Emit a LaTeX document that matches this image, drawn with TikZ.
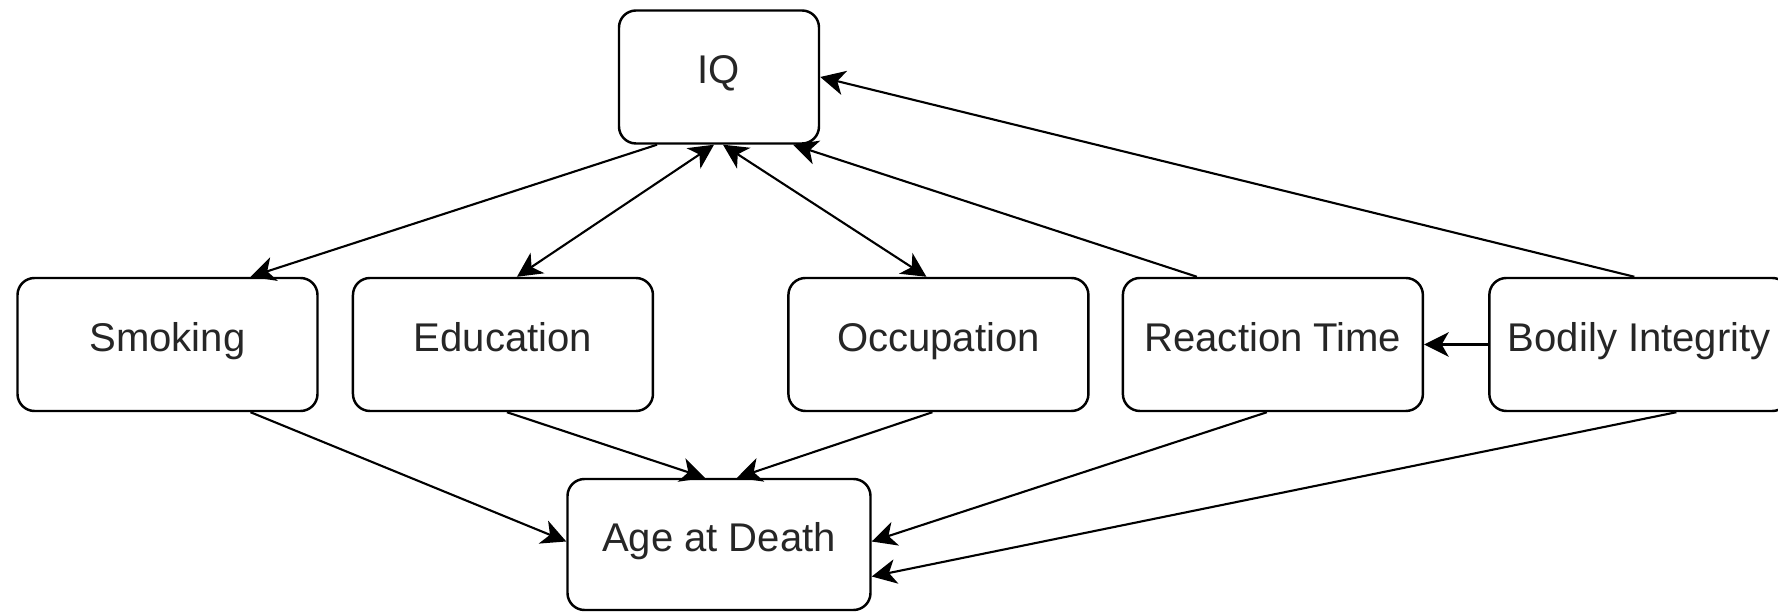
\documentclass[tikz,border=0pt]{standalone}
\usepackage{fontspec}
\setmainfont{Liberation Sans}
\usetikzlibrary{arrows.meta, positioning}
\tikzset{
    factor/.style={rectangle, draw, line width=0.7pt, rounded corners=0.17cm, fill=white, align=center,
        minimum width=3cm, minimum height=1.33cm, inner sep=0pt, text height=8.4pt, text depth=4.6pt,
        font=\fontsize{11.4}{14}\selectfont, text=black!85},
    arrow/.style={line width=0.6pt, -{Stealth[length=7pt, width=7pt, inset=2pt]}},
    twoway/.style={arrow, {Stealth[length=7pt, width=7pt, inset=2pt]}-{Stealth[length=7pt, width=7pt, inset=2pt]}}
}
\begin{document}
\begin{tikzpicture}
    \useasboundingbox (0,0) rectangle (17.78,-6.13);

    % Top
    \node (iq) [factor, minimum width=2cm] at (7.19,-0.77) {IQ};

    % Middle row
    \node (smoking) [factor] at (1.675,-3.445) {Smoking};
    \node (education) [factor, right=0.33cm of smoking] {Education};
    \node (occupation) [factor, right=1.33cm of education] {Occupation};
    \node (reaction) [factor, right=0.32cm of occupation] {Reaction Time};
    \node (bodily) [factor, right=0.64cm of reaction] {Bodily Integrity};

    % Bottom
    \node (death) [factor, minimum width=3.03cm, minimum height=1.31cm] at (7.19,-5.445) {Age at Death};

    % Links with IQ
    \draw [arrow] ([xshift=-0.62cm]iq.south) -- ([xshift=0.83cm]smoking.north);
    \draw [twoway] ([xshift=-0.05cm]iq.south) -- ([xshift=0.14cm]education.north);
    \draw [twoway] ([xshift=0.04cm]iq.south) -- ([xshift=-0.12cm]occupation.north);
    \draw [arrow] ([xshift=-0.76cm]reaction.north) -- ([xshift=0.74cm]iq.south);
    \draw [arrow] ([xshift=-0.05cm]bodily.north) -- (iq.east);
    \draw [arrow] (bodily.west) -- (reaction.east);

    % Links with Age at Death
    \draw [arrow] ([xshift=0.83cm]smoking.south) -- ([yshift=0.03cm]death.west);
    \draw [arrow] ([xshift=0.04cm]education.south) -- ([xshift=-0.14cm]death.north);
    \draw [arrow] ([xshift=-0.06cm]occupation.south) -- ([xshift=0.18cm]death.north);
    \draw [arrow] ([xshift=-0.06cm]reaction.south) -- ([yshift=0.03cm]death.east);
    \draw [arrow] ([xshift=0.37cm]bodily.south) -- ([yshift=-0.32cm]death.east);

\end{tikzpicture}
\end{document}
